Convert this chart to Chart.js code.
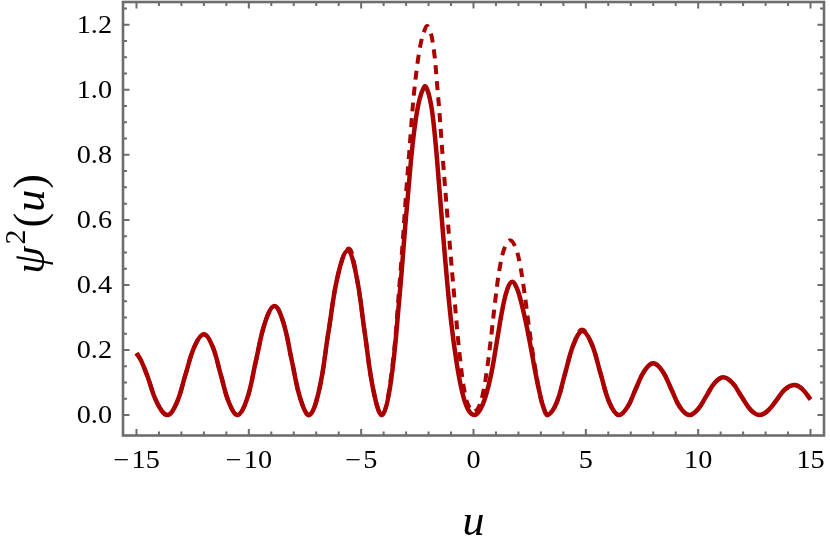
<!DOCTYPE html>
<html>
<head>
<meta charset="utf-8">
<script src="https://cdn.jsdelivr.net/npm/chart.js@4.4.1/dist/chart.umd.min.js"></script>
<style>
  html, body { margin: 0; padding: 0; background: #fff; }
</style>
</head>
<body>
<canvas id="chart" width="830" height="556"></canvas>
<script>
// solid curve
const solidU = [
  -15, -14.8, -14.5, -14.1, -13.63,
  -13.22, -12.82, -12.41, -12.0,
  -11.62, -11.25, -10.87, -10.49,
  -10.08, -9.68, -9.27, -8.86,
  -8.47, -8.09, -7.70, -7.31,
  -6.88, -6.46, -6.03, -5.6,
  -5.22, -4.84, -4.45, -4.07,
  -3.692, -3.314, -2.936, -2.558, -2.18,
  -1.95, -1.75, -1.5, -1.25, -1.0, -0.75, -0.5, -0.25, 0.03,
  0.3, 0.55, 0.8, 1.05, 1.3, 1.52, 1.73,
  1.93, 2.13, 2.33, 2.53, 2.73, 2.93, 3.12, 3.31,
  3.7, 4.08, 4.47, 4.85,
  5.25, 5.65, 6.05, 6.45,
  6.84, 7.22, 7.61, 8.0,
  8.4, 8.8, 9.2, 9.6,
  9.98, 10.36, 10.74, 11.12,
  11.52, 11.92, 12.32, 12.72,
  13.1, 13.49, 13.87, 14.26,
  14.6, 15
];
const solidPsi = [
  0.19, 0.168, 0.117, 0.04, 0,
  0.036, 0.124, 0.212, 0.248,
  0.212, 0.124, 0.036, 0,
  0.049, 0.168, 0.286, 0.335,
  0.286, 0.168, 0.049, 0,
  0.074, 0.253, 0.431, 0.505,
  0.431, 0.253, 0.074, 0,
  0.096, 0.348, 0.662, 0.914, 1.01,
  0.975, 0.88, 0.68, 0.47, 0.29, 0.16, 0.07, 0.018, 0,
  0.017, 0.06, 0.13, 0.23, 0.33, 0.39, 0.41,
  0.39, 0.345, 0.285, 0.215, 0.14, 0.072, 0.022, 0,
  0.038, 0.129, 0.22, 0.258,
  0.22, 0.129, 0.038, 0,
  0.023, 0.08, 0.136, 0.159,
  0.136, 0.08, 0.023, 0,
  0.017, 0.058, 0.099, 0.116,
  0.099, 0.058, 0.017, 0,
  0.013, 0.046, 0.079, 0.092,
  0.082, 0.048
];

// dashed curve
const dashedU = [
  -15, -14.8, -14.5, -14.1, -13.63,
  -13.22, -12.82, -12.41, -12.0,
  -11.62, -11.25, -10.87, -10.49,
  -10.08, -9.68, -9.27, -8.86,
  -8.47, -8.09, -7.70, -7.31,
  -6.88, -6.46, -6.03, -5.55,
  -5.22, -4.84, -4.45, -4.07,
  -3.676, -3.282, -2.888, -2.494, -2.1,
  -1.85, -1.6, -1.35, -1.1, -0.85, -0.6, -0.35, -0.12, 0.0,
  0.2, 0.4, 0.6, 0.8, 1.0, 1.2, 1.42, 1.65,
  1.87, 2.05, 2.25, 2.45, 2.64, 2.93, 3.12, 3.31,
  3.7, 4.08, 4.47, 4.83,
  5.25, 5.65, 6.05, 6.45,
  6.84, 7.22, 7.61, 8.0,
  8.4, 8.8, 9.2, 9.6,
  9.98, 10.36, 10.74, 11.12,
  11.52, 11.92, 12.32, 12.72,
  13.1, 13.49, 13.87, 14.26,
  14.6, 15
];
const dashedPsi = [
  0.19, 0.168, 0.117, 0.04, 0,
  0.036, 0.124, 0.212, 0.248,
  0.212, 0.124, 0.036, 0,
  0.049, 0.168, 0.286, 0.335,
  0.286, 0.168, 0.049, 0,
  0.074, 0.253, 0.431, 0.512,
  0.431, 0.253, 0.074, 0,
  0.114, 0.412, 0.783, 1.081, 1.195,
  1.16, 1.0, 0.775, 0.56, 0.36, 0.175, 0.055, 0.015, 0.01,
  0.02, 0.06, 0.14, 0.25, 0.37, 0.465, 0.52, 0.537,
  0.515, 0.47, 0.385, 0.28, 0.19, 0.072, 0.022, 0,
  0.038, 0.129, 0.22, 0.263,
  0.22, 0.129, 0.038, 0,
  0.023, 0.08, 0.136, 0.159,
  0.136, 0.08, 0.023, 0,
  0.017, 0.058, 0.099, 0.116,
  0.099, 0.058, 0.017, 0,
  0.013, 0.046, 0.079, 0.092,
  0.082, 0.048
];

const xTicks = [-15, -10, -5, 0, 5, 10, 15];
const xTickLabels = ['\u2212\u200a15', '\u2212\u200a10', '\u2212\u200a5', '0', '5', '10', '15'];
const yTicks = [0, 0.2, 0.4, 0.6, 0.8, 1.0, 1.2];
const yTickLabels = ['0.0', '0.2', '0.4', '0.6', '0.8', '1.0', '1.2'];

const red = '#aa0000';
const frameGray = '#6d6d6d';

const toPoints = (us, vs) => us.map((u, i) => ({ x: u, y: vs[i] }));

// stretched text, the reference digits are wider than Liberation's
function wideText(ctx, text, x, y, align, sx) {
  ctx.save();
  ctx.textAlign = align;
  ctx.translate(x, y);
  ctx.scale(sx, 1);
  ctx.fillText(text, 0, 0);
  ctx.restore();
}

// mathematica-like frame with inward ticks
const framePlugin = {
  id: 'frame',
  afterDraw(chart) {
    const { ctx, chartArea: { left, right, top, bottom }, scales: { x, y } } = chart;
    ctx.save();
    ctx.strokeStyle = frameGray;
    ctx.lineWidth = 2;
    ctx.beginPath();
    for (let v = -15; v <= 15; v++) {
      const px = x.getPixelForValue(v);
      const len = v % 5 === 0 ? 6.5 : 4;
      ctx.moveTo(px, bottom); ctx.lineTo(px, bottom - len);
      ctx.moveTo(px, top); ctx.lineTo(px, top + len);
    }
    for (let k = 0; k <= 25; k++) {
      const py = y.getPixelForValue(k * 0.05);
      const len = k % 4 === 0 ? 6.5 : 4;
      ctx.moveTo(left, py); ctx.lineTo(left + len, py);
      ctx.moveTo(right, py); ctx.lineTo(right - len, py);
    }
    ctx.stroke();
    ctx.lineWidth = 2.6;
    ctx.strokeRect(left, top, right - left, bottom - top);

    ctx.fillStyle = '#000';
    ctx.font = '25px "Liberation Serif"';
    ctx.textBaseline = 'alphabetic';
    xTicks.forEach((v, i) => {
      wideText(ctx, xTickLabels[i], x.getPixelForValue(v), 468, 'center', 1.13);
    });
    yTicks.forEach((v, i) => {
      wideText(ctx, yTickLabels[i], 112, y.getPixelForValue(v) + 8, 'right', 1.13);
    });

    // axis titles
    ctx.textAlign = 'left';
    ctx.font = 'italic 44px "Liberation Serif"';
    const uw = ctx.measureText('u').width;
    ctx.fillText('u', (left + right) / 2 - uw / 2, 535);

    ctx.translate(44, 224);
    ctx.rotate(-Math.PI / 2);
    const parts = [
      { t: '\u03c8', f: 'italic 44px "Liberation Serif"', dy: 0, gap: 2 },
      { t: '2', f: '30px "Liberation Serif"', dy: -19, gap: 2 },
      { t: '(', f: '44px "Liberation Serif"', dy: 0, gap: 1 },
      { t: 'u', f: 'italic 44px "Liberation Serif"', dy: 0, gap: 1 },
      { t: ')', f: '44px "Liberation Serif"', dy: 0, gap: 0 },
    ];
    let total = 0;
    parts.forEach((p) => { ctx.font = p.f; p.w = ctx.measureText(p.t).width; total += p.w + p.gap; });
    let cx = -total / 2;
    parts.forEach((p) => {
      ctx.font = p.f;
      ctx.fillText(p.t, cx, p.dy);
      cx += p.w + p.gap;
    });
    ctx.restore();
  },
};

const config = {
  type: 'line',
  data: {
    datasets: [
      {
        label: 'solid',
        data: toPoints(solidU, solidPsi),
        borderColor: red,
        borderWidth: 4.5,
        borderJoinStyle: 'round',
        borderCapStyle: 'butt',
      },
      {
        label: 'dashed',
        data: toPoints(dashedU, dashedPsi),
        borderColor: red,
        borderWidth: 4,
        borderDash: [9, 7],
        borderCapStyle: 'butt',
      },
    ],
  },
  options: {
    responsive: false,
    animation: false,
    devicePixelRatio: 1,
    events: [],
    layout: { padding: { left: 123, right: 6, top: 2, bottom: 120.5 } },
    elements: {
      point: { radius: 0 },
      line: { tension: 0.4, fill: false },
    },
    scales: {
      x: { type: 'linear', min: -15.6, max: 15.6, display: false },
      y: { type: 'linear', min: -0.063, max: 1.27, display: false },
    },
    plugins: {
      legend: { display: false },
      tooltip: { enabled: false },
    },
  },
  plugins: [framePlugin],
};

new Chart(document.getElementById('chart'), config);
</script>
</body>
</html>
